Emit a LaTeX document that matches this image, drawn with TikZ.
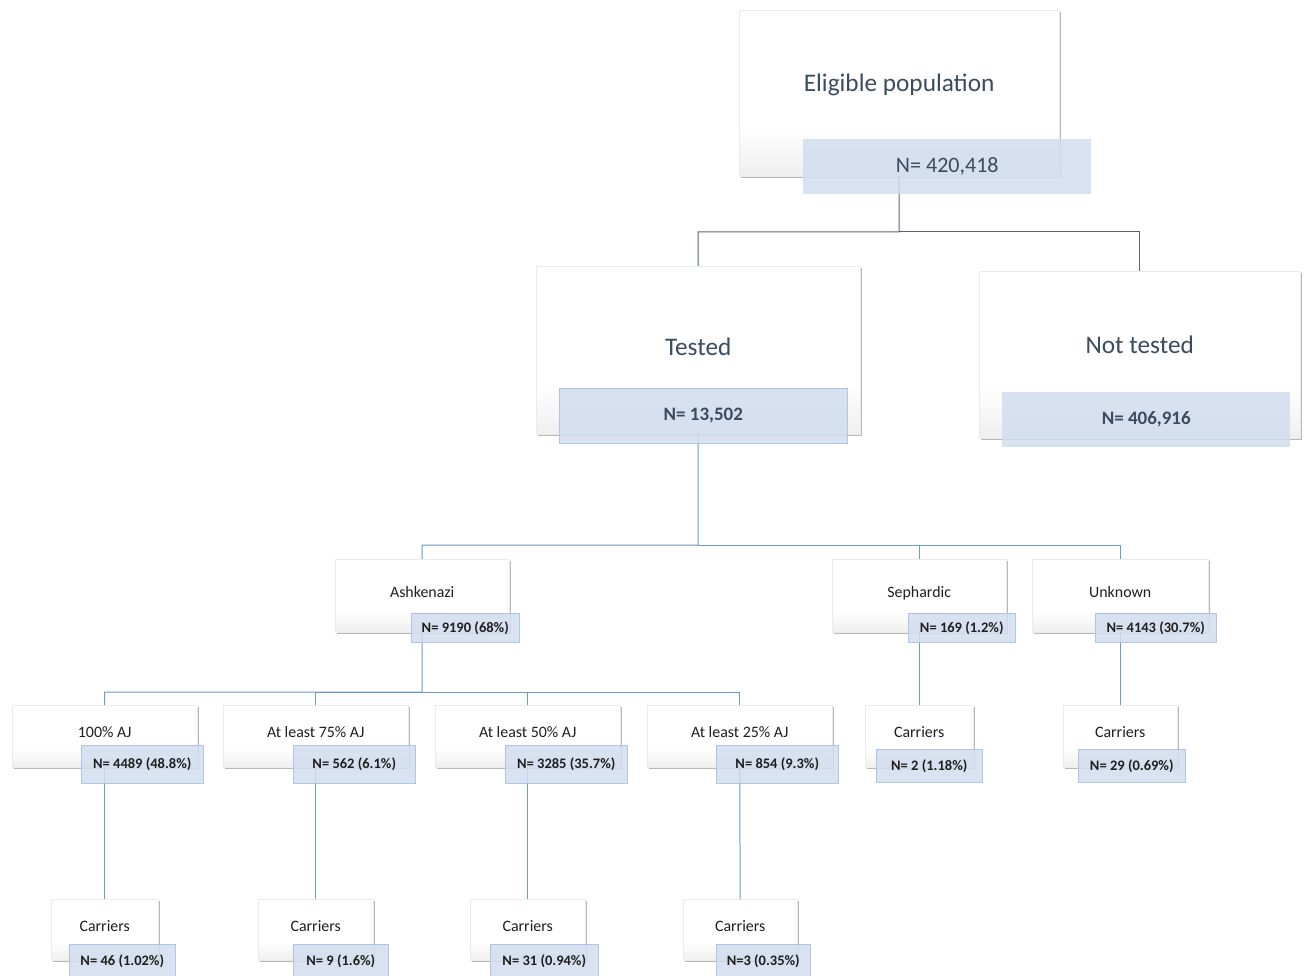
\documentclass[tikz,border=0pt]{standalone}
\usepackage{fontspec}
\setmainfont{Carlito}
\usetikzlibrary{shadows}
\definecolor{toptext}{HTML}{3B4B60}
\definecolor{lineA}{HTML}{56677B}
\definecolor{lineB}{HTML}{6C9BD2}
\definecolor{labfill}{HTML}{D2DDEE}
\definecolor{labdraw}{HTML}{A9C3E3}
\pgfdeclareverticalshading{boxshade}{100bp}{color(0bp)=(black!17); color(40bp)=(white); color(100bp)=(white)}
\tikzset{
  pbox/.style={rectangle, shading=boxshade, draw=black!8, line width=0.4pt, anchor=north west, inner sep=0pt,
    drop shadow={shadow xshift=1.6pt, shadow yshift=-1.6pt, opacity=0.5, fill=black!55}},
  nlab/.style={rectangle, fill=labfill, fill opacity=0.85, text opacity=1, draw=labdraw, draw opacity=0.9, line width=0.5pt, anchor=north west, inner sep=0pt},
  connA/.style={draw=lineA, line width=1pt},
  connB/.style={draw=lineB, line width=1pt},
  bigtxt/.style={font=\fontsize{25.3}{29}\selectfont, text=toptext},
  bignum/.style={font=\fontsize{22}{26}\selectfont, text=toptext},
  bignumb/.style={font=\fontsize{19}{23}\selectfont\bfseries, text=toptext},
  smtxt/.style={font=\fontsize{15.9}{19}\selectfont, text=black!88},
  smnum/.style={font=\fontsize{14.5}{17}\selectfont\bfseries, text=black!88},
}
\newcommand{\up}[2]{\raisebox{#1pt}{#2}}
\begin{document}
\begin{tikzpicture}[x=1pt,y=-1pt]
\useasboundingbox[fill=white] (0,0) rectangle (1304,976);

% ---- main boxes ----
\node[pbox, minimum width=320, minimum height=166, bigtxt] (elig) at (739,10) {\up{21}{Eligible population}};
\node[pbox, minimum width=324, minimum height=168, bigtxt] (tested) at (536,266) {\up{7}{Tested}};
\node[pbox, minimum width=321, minimum height=167, bigtxt] (nt) at (979,271) {\up{19}{Not tested}};

\node[pbox, minimum width=174, minimum height=73, smtxt] (ash) at (335,559) {\up{7}{Ashkenazi}};
\node[pbox, minimum width=174, minimum height=73, smtxt] (seph) at (832,559) {\up{7}{Sephardic}};
\node[pbox, minimum width=176, minimum height=73, smtxt] (unk) at (1032,559) {\up{7}{Unknown}};

\node[pbox, minimum width=185, minimum height=62, smtxt] (aj100) at (12,705) {\up{8}{100\% AJ}};
\node[pbox, minimum width=185, minimum height=62, smtxt] (aj75) at (223,705) {\up{8}{At least 75\% AJ}};
\node[pbox, minimum width=185, minimum height=62, smtxt] (aj50) at (435,705) {\up{8}{At least 50\% AJ}};
\node[pbox, minimum width=185, minimum height=62, smtxt] (aj25) at (647,705) {\up{8}{At least 25\% AJ}};

\node[pbox, minimum width=108, minimum height=62, smtxt] (csep) at (865,705) {\up{8}{Carriers}};
\node[pbox, minimum width=114, minimum height=62, smtxt] (cunk) at (1063,705) {\up{8}{Carriers}};

\node[pbox, minimum width=107, minimum height=61, smtxt] (c100) at (51,899) {\up{7}{Carriers}};
\node[pbox, minimum width=115, minimum height=61, smtxt] (c75) at (258,899) {\up{7}{Carriers}};
\node[pbox, minimum width=115, minimum height=61, smtxt] (c50) at (470,899) {\up{7}{Carriers}};
\node[pbox, minimum width=114, minimum height=61, smtxt] (c25) at (683,899) {\up{7}{Carriers}};

% ---- connectors ----
\coordinate (j1) at (899,232);
\draw[connA] (elig.south) -- (j1) -| (tested.north);
\draw[connA] (j1) -| (nt.north);

\coordinate (j2) at (698,545);
\draw[connB] (tested.south) -- (j2) -| (ash.north);
\draw[connB] (j2) -| (seph.north);
\draw[connB] (j2) -| (unk.north);

\coordinate (j3) at (422,692);
\draw[connB] (ash.south) -- (j3) -| (aj100.north);
\draw[connB] (j3) -| (aj75.north);
\draw[connB] (j3) -| (aj50.north);
\draw[connB] (j3) -| (aj25.north);

\draw[connB] (seph.south) -- (csep.north);
\draw[connB] (unk.south) -- (cunk.north);
\draw[connB] (aj100.south) -- (c100.north);
\draw[connB] (aj75.south) -- (c75.north);
\draw[connB] (aj50.south) -- (c50.north);
\draw[connB] (aj25.south) -- (c25.north);

% ---- N labels ----
\node[nlab, draw=none, minimum width=288, minimum height=55, bignum] (eligN) at (803,139) {N= 420,418};
\node[nlab, minimum width=288, minimum height=55, bignumb] (testedN) at (559,388) {N= 13,502};
\node[nlab, draw=none, minimum width=288, minimum height=55, bignumb] (ntN) at (1002,392) {N= 406,916};

\node[nlab, minimum width=108, minimum height=29, smnum] (ashN) at (411,613) {N= 9190 (68\%)};
\node[nlab, minimum width=107, minimum height=29, smnum] (sephN) at (908,613) {N= 169 (1.2\%)};
\node[nlab, minimum width=121, minimum height=29, smnum] (unkN) at (1095,613) {N= 4143 (30.7\%)};

\node[nlab, minimum width=122, minimum height=38, smnum] (aj100N) at (81,745) {N= 4489 (48.8\%)};
\node[nlab, minimum width=122, minimum height=38, smnum] (aj75N) at (293,745) {N= 562 (6.1\%)};
\node[nlab, minimum width=122, minimum height=38, smnum] (aj50N) at (505,745) {N= 3285 (35.7\%)};
\node[nlab, minimum width=122, minimum height=38, smnum] (aj25N) at (716,745) {N= 854 (9.3\%)};

\node[nlab, minimum width=106, minimum height=33, smnum] (csepN) at (876,749) {N= 2 (1.18\%)};
\node[nlab, minimum width=107, minimum height=33, smnum] (cunkN) at (1078,749) {N= 29 (0.69\%)};

\node[nlab, minimum width=106, minimum height=34, smnum] (c100N) at (69,944) {N= 46 (1.02\%)};
\node[nlab, minimum width=95, minimum height=34, smnum] (c75N) at (293,944) {N= 9 (1.6\%)};
\node[nlab, minimum width=108, minimum height=34, smnum] (c50N) at (490,944) {N= 31 (0.94\%)};
\node[nlab, minimum width=94, minimum height=34, smnum] (c25N) at (716,944) {N=3 (0.35\%)};
\end{tikzpicture}
\end{document}
